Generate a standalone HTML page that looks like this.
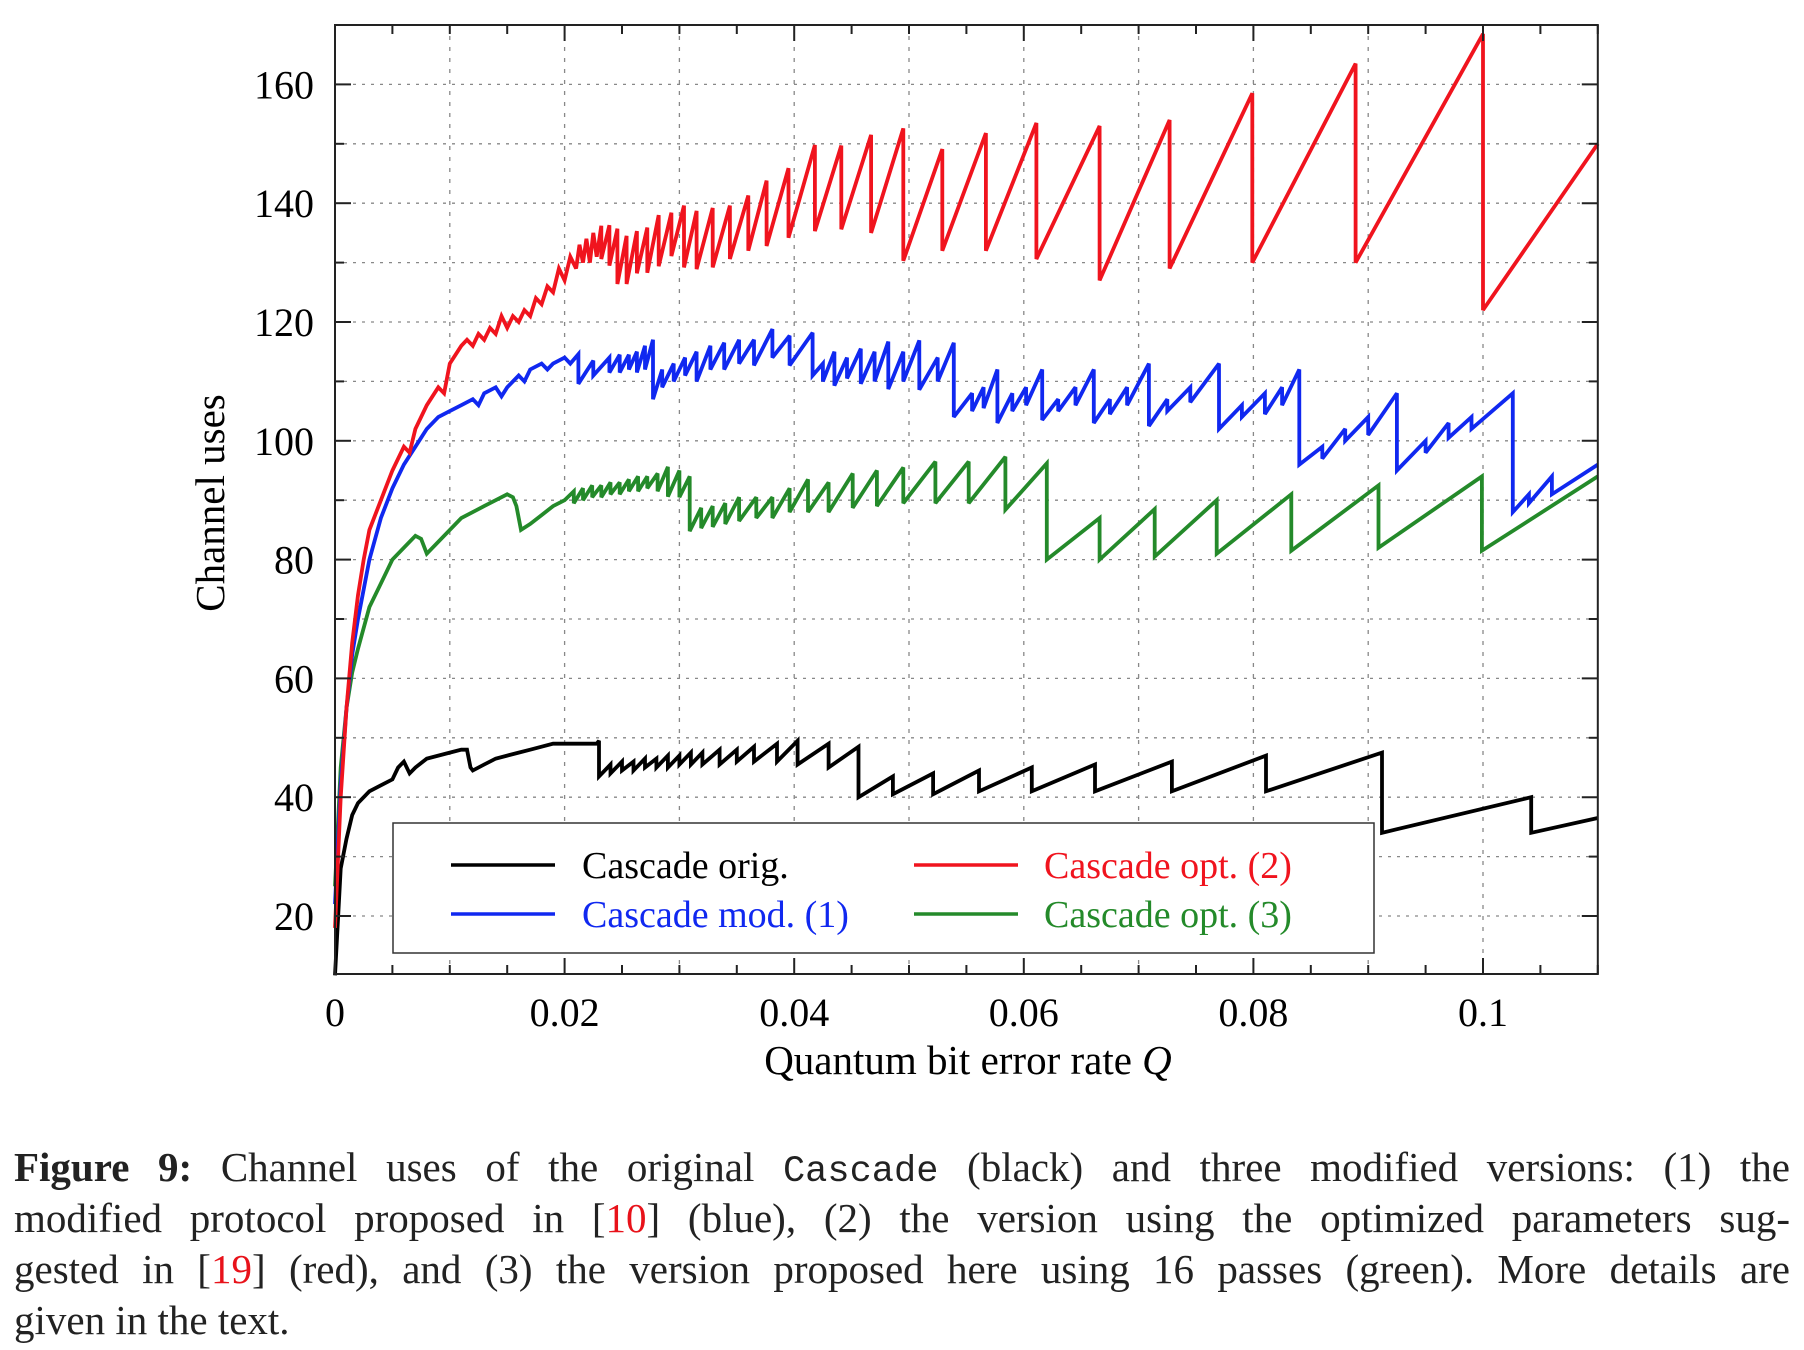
<!DOCTYPE html>
<html><head><meta charset="utf-8"><style>
html,body{margin:0;padding:0;background:#fff;width:1804px;height:1350px;overflow:hidden}
.cap{position:absolute;left:14px;width:1776px;font-family:"Liberation Serif",serif;font-size:41px;color:#222;text-align:justify;text-align-last:justify;white-space:nowrap;line-height:42px}
.cap.last{text-align-last:left}
.mono{font-family:"Liberation Mono",monospace;font-size:37px}
.r{color:#e8121a}
</style></head><body>
<svg id="chart" width="1804" height="1350" style="position:absolute;left:0;top:0" xmlns="http://www.w3.org/2000/svg" font-family="Liberation Serif, serif">
<g id="grid"></g>
<g id="series"></g>
<g id="axes"></g>
<text x="968" y="1074" font-size="41" text-anchor="middle">Quantum bit error rate <tspan font-style="italic">Q</tspan></text>
<text x="224" y="503" font-size="41" text-anchor="middle" transform="rotate(-90 224 503)">Channel uses</text>
<g>
<rect x="393" y="823" width="981" height="130" fill="#fff" stroke="#333" stroke-width="1.5"/>
<line x1="451" y1="865" x2="555" y2="865" stroke="#000" stroke-width="3.5"/>
<text x="582" y="878" font-size="38">Cascade orig.</text>
<line x1="451" y1="914" x2="555" y2="914" stroke="#1028f0" stroke-width="3.5"/>
<text x="582" y="927" font-size="38" fill="#1028f0">Cascade mod. (1)</text>
<line x1="914" y1="865" x2="1018" y2="865" stroke="#f0141e" stroke-width="3.5"/>
<text x="1044" y="878" font-size="38" fill="#f0141e">Cascade opt. (2)</text>
<line x1="914" y1="914" x2="1018" y2="914" stroke="#248a2a" stroke-width="3.5"/>
<text x="1044" y="927" font-size="38" fill="#248a2a">Cascade opt. (3)</text>
</g>
</svg>
<div class="cap" style="top:1146px"><b>Figure 9:</b> Channel uses of the original <span class="mono">Cascade</span> (black) and three modified versions: (1) the</div>
<div class="cap" style="top:1197px">modified protocol proposed in [<span class="r">10</span>] (blue), (2) the version using the optimized parameters sug-</div>
<div class="cap" style="top:1248px">gested in [<span class="r">19</span>] (red), and (3) the version proposed here using 16 passes (green). More details are</div>
<div class="cap last" style="top:1299px">given in the text.</div>
<script>
// ---- data ----
const xTicks = [0, 0.02, 0.04, 0.06, 0.08, 0.1];
const xTickLabels = ["0", "0.02", "0.04", "0.06", "0.08", "0.1"];
const yTicks = [20, 40, 60, 80, 100, 120, 140, 160];
const yTickLabels = ["20", "40", "60", "80", "100", "120", "140", "160"];

// Black: Cascade orig.
const origHeadQ = [0,0.0005,0.001,0.0015,0.002,0.003,0.004,0.005,0.0055,0.006,0.0065,0.007,0.008,0.009,0.010,0.011,0.0115,0.0118,0.012,0.013,0.014,0.015,0.016,0.017,0.018,0.019,0.020,0.021,0.022,0.0228];
const origHeadV = [10,28,33,37,39,41,42,43,45,46,44,45,46.5,47,47.5,48,48,45,44.5,45.5,46.5,47,47.5,48,48.5,49,49,49,49,49];
const origToothQ = [0.0230,0.024,0.025,0.026,0.027,0.028,0.029,0.030,0.031,0.032,0.0335,0.035,0.0365,0.0385,0.0403,0.043,0.0456,0.0486,0.0521,0.0561,0.0607,0.0662,0.0729,0.0811,0.0912,0.1042];
const origPeak   = [49.5,45.5,46,46,46.5,46.5,47,47,47.5,47.5,48,48,48.5,49,49.5,49,48.5,43.5,44,44.5,45,45.5,46,47,47.5,40];
const origTrough = [43.5,44,44.5,44.5,45,45,45,45.5,45.5,45.5,45.5,46,46,46,45.5,45,40,40.5,40.5,41,41,41,41,41,34,34];
const origEnd = [0.11, 36.5];

// Red: Cascade opt. (2)
const opt2HeadQ = [0,0.0005,0.001,0.0015,0.002,0.0025,0.003,0.004,0.005,0.006,0.0065,0.007,0.008,0.009,0.0095,0.010,0.011,0.0115,0.012,0.0125,0.013,0.0135,0.014,0.0145,0.015,0.0155,0.016,0.0165,0.017,0.0175,0.018,0.0185,0.019,0.0195,0.020,0.0205,0.021,0.0213,0.0216,0.0219,0.0222,0.0225,0.0228];
const opt2HeadV = [18,40,55,66,74,80,85,90,95,99,98,102,106,109,108,113,116,117,116,118,117,119,118,121,119,121,120,122,121,124,123,126,125,129,127,131,129,133,130,134,130,135,131];
const opt2ToothQ = [0.0232,0.0239,0.0246,0.0254,0.0263,0.0272,0.0282,0.0293,0.0304,0.0315,0.0329,0.0344,0.0360,0.0376,0.0395,0.0418,0.0441,0.0467,0.0495,0.0529,0.0567,0.0611,0.0666,0.0727,0.0799,0.0889,0.1000];
const opt2Peak   = [136.2,136.3,135.7,134.5,135.3,135.9,138,138.4,139.6,138.7,139.2,139.6,141.3,143.8,145.9,149.8,149.7,151.5,152.6,149.1,151.8,153.5,153,154,158.5,163.5,168.5];
const opt2Trough = [130.6,129.5,126.4,126.4,128.2,128.3,129.4,131.1,129.2,128.9,129.2,130.6,132,132.8,134.2,135.3,135.6,135,130.3,132,132,130.6,127,129,130,130,122];
const opt2End = [0.11, 150];

// Blue: Cascade mod. (1)
const mod1HeadQ = [0,0.0005,0.001,0.0015,0.002,0.003,0.004,0.005,0.006,0.007,0.008,0.009,0.010,0.011,0.012,0.0125,0.013,0.014,0.0145,0.015,0.016,0.0165,0.017,0.018,0.0185,0.019,0.020,0.0205];
const mod1HeadV = [22,42,55,64,70,80,87,92,96,99,102,104,105,106,107,106,108,109,107.5,109,111,110,112,113,112,113,114,113];
const mod1ToothQ = [0.0212,0.0225,0.0239,0.0248,0.0256,0.0263,0.0270,0.0277,0.0285,0.0295,0.0305,0.0315,0.0327,0.0339,0.0352,0.0365,0.0381,0.0396,0.0416,0.0425,0.0435,0.0446,0.0458,0.0470,0.0482,0.0495,0.0509,0.0525,0.0539,0.0555,0.0565,0.0577,0.0590,0.0602,0.0616,0.0630,0.0645,0.0661,0.0675,0.0690,0.0709,0.0725,0.0745,0.0770,0.0790,0.0810,0.0825,0.0840,0.0860,0.0880,0.0900,0.0925,0.0950,0.0970,0.0990,0.1026,0.1040,0.1060];
const mod1Peak   = [114.6,113.5,114,114.5,114.5,115,116,117,112,113,114,115,116,116.5,117,117,118.8,117.7,118.2,113,115,114,115.5,115,116.7,115,116.9,114,116.5,108,109,112,108,109,112,107,109,112,107,109,113,107,109,113,106,108,109,112,99,102,104,108,100,103,104,108,91,94];
const mod1Trough = [109.6,111,111.5,111.5,112,111.5,112,107,109,110,111,110,112,112,113,112.7,114,112.7,111,110,109.3,110.5,109.6,110,108.7,110,108.6,110,104,105,105.5,103,105,106,103.5,105,106,103,104.5,106,102.5,105,106.5,102,104,104.5,106,96,97,100,101,95,98,100.5,102,88,89.5,91];
const mod1End = [0.11, 96];

// Green: Cascade opt. (3)
const opt3HeadQ = [0,0.0005,0.001,0.0015,0.002,0.003,0.004,0.005,0.006,0.007,0.0075,0.008,0.009,0.010,0.011,0.012,0.013,0.014,0.015,0.0155,0.0158,0.0162,0.017,0.018,0.019,0.020];
const opt3HeadV = [25,45,55,61,65,72,76,80,82,84,83.5,81,83,85,87,88,89,90,91,90.5,89,85,86,87.5,89,90];
const opt3ToothQ = [0.0208,0.0216,0.0224,0.0232,0.0240,0.0248,0.0256,0.0264,0.0272,0.0281,0.0290,0.0300,0.0309,0.0319,0.0329,0.0340,0.0352,0.0367,0.0381,0.0396,0.0412,0.0430,0.0451,0.0472,0.0495,0.0523,0.0552,0.0584,0.0620,0.0666,0.0714,0.0768,0.0833,0.0909,0.0999];
const opt3Peak   = [91.5,92,92.5,92.5,93,93,93.5,94,94,94.5,95.6,95,94,88.7,89,89.5,90.5,90.5,90.5,92,93.5,93,94.5,95,95.5,96.5,96.5,97.3,96.2,87,88.5,90,91,92.5,94];
const opt3Trough = [89.5,90,90.5,90.5,91,91,91.5,91.5,92,91.5,90.6,90.5,84.8,85.3,85.5,86,86.5,87,87,88,88,88,88.7,89,89.5,89.5,89.5,88.4,80,80,80.5,81,81.5,82,81.5];
const opt3End = [0.11, 94];

// ---- scales ----
const X0 = 335, XPER = 11480, Y160 = 84.4, YPER = 5.94;
const PL = 335, PR = 335 + 0.11 * 11480, PT = 25, PB = 974;
function xs(q){ return X0 + q * XPER; }
function ys(v){ return Y160 - (v - 160) * YPER; }
const NS = "http://www.w3.org/2000/svg";
function mk(tag, attrs){ const e = document.createElementNS(NS, tag); for (const k in attrs) e.setAttribute(k, attrs[k]); return e; }

// grid
const grid = document.getElementById('grid');
for (let i = 1; i <= 10; i++) {
  const x = xs(i * 0.01);
  const l = mk('line', {x1:x, y1:PT, x2:x, y2:PB, stroke:'#888', 'stroke-width':1.3, 'stroke-dasharray':'4,7'});
  
  
  grid.appendChild(l);
}
for (let v = 20; v <= 160; v += 10) {
  const y = ys(v);
  const l = mk('line', {x1:PL, y1:y, x2:PR, y2:y, stroke:'#888', 'stroke-width':1.3, 'stroke-dasharray':'3,6'});
  
  
  grid.appendChild(l);
}

// series
function buildPts(hq, hv, tq, tp, tt, end){
  const pts = [];
  for (let i = 0; i < hq.length; i++) pts.push([xs(hq[i]), ys(hv[i])]);
  for (let i = 0; i < tq.length; i++) { pts.push([xs(tq[i]), ys(tp[i])]); pts.push([xs(tq[i]), ys(tt[i])]); }
  pts.push([xs(end[0]), ys(end[1])]);
  return pts.map(p => p[0].toFixed(1) + ',' + p[1].toFixed(1)).join(' ');
}
const sg = document.getElementById('series');
const defs = [
  ['series-cascade-orig', '#000', origHeadQ, origHeadV, origToothQ, origPeak, origTrough, origEnd],
  ['series-cascade-opt3', '#248a2a', opt3HeadQ, opt3HeadV, opt3ToothQ, opt3Peak, opt3Trough, opt3End],
  ['series-cascade-mod1', '#1028f0', mod1HeadQ, mod1HeadV, mod1ToothQ, mod1Peak, mod1Trough, mod1End],
  ['series-cascade-opt2', '#f0141e', opt2HeadQ, opt2HeadV, opt2ToothQ, opt2Peak, opt2Trough, opt2End]
];
defs.forEach(d => {
  const p = mk('polyline', {points: buildPts(d[2], d[3], d[4], d[5], d[6], d[7]), fill:'none', stroke:d[1], 'stroke-width':3.8, 'stroke-linejoin':'miter', 'stroke-miterlimit':3});
  
  
  sg.appendChild(p);
});

// axes frame and ticks
const ax = document.getElementById('axes');
const frame = mk('rect', {x:PL, y:PT, width:PR-PL, height:PB-PT, fill:'none', stroke:'#222', 'stroke-width':2});


ax.appendChild(frame);
for (let i = 0; i <= 22; i++) {
  const x = xs(i * 0.005);
  const len = (i % 4 === 0) ? 16 : 9;
  const b = mk('line', {x1:x, y1:PB, x2:x, y2:PB-len, stroke:'#222', 'stroke-width':2});
  
  
  ax.appendChild(b);
  const t = mk('line', {x1:x, y1:PT, x2:x, y2:PT+len, stroke:'#222', 'stroke-width':2});
  
  
  ax.appendChild(t);
}
for (let v = 20; v <= 160; v += 10) {
  const y = ys(v);
  const len = (v % 20 === 0) ? 16 : 9;
  const l = mk('line', {x1:PL, y1:y, x2:PL+len, y2:y, stroke:'#222', 'stroke-width':2});
  
  
  ax.appendChild(l);
  const r = mk('line', {x1:PR, y1:y, x2:PR-len, y2:y, stroke:'#222', 'stroke-width':2});
  
  
  ax.appendChild(r);
}
xTicks.forEach((q, i) => {
  const t = mk('text', {x:xs(q), y:1026, 'font-size':40, 'text-anchor':'middle'});
  t.textContent = xTickLabels[i];
  
  
  ax.appendChild(t);
});
yTicks.forEach((v, i) => {
  const t = mk('text', {x:314, y:ys(v)+14, 'font-size':40, 'text-anchor':'end'});
  t.textContent = yTickLabels[i];
  
  
  ax.appendChild(t);
});
</script>
</body></html>
